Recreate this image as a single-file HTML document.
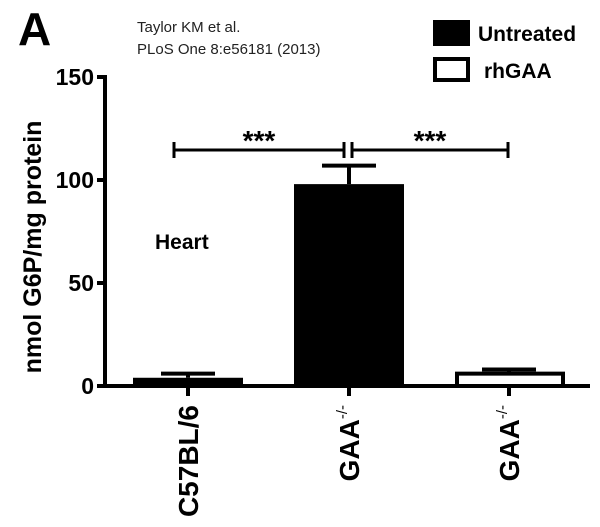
<!DOCTYPE html>
<html><head><meta charset="utf-8"><style>
body{margin:0;background:#fff;width:600px;height:527px;overflow:hidden}
svg{display:block;font-family:"Liberation Sans",Arial,sans-serif}
</style></head><body>
<svg width="600" height="527" viewBox="0 0 600 527">
<g id="root"></g>
</svg>
<script>
const categories=["C57BL/6","GAA","GAA"];
const superscripts=["","-/-","-/-"];
const values=[4,98,6];
const errors=[6,107,8];
const treated=[false,false,true];
const ticks=[0,50,100,150];
const NS="http://www.w3.org/2000/svg";
const root=document.getElementById('root');
const y0=386,yTop=77,vmax=150;
function ys(v){return y0-(v/vmax)*(y0-yTop);}
const xc=[188,349,509],bw=110;
function mk(t,a,name,parent){const e=document.createElementNS(NS,t);for(const k in a)e.setAttribute(k,a[k]);


(parent||root).appendChild(e);return e;}
let t=mk('text',{x:18,y:45,'font-size':46,'font-weight':'bold'},'panel-label');t.textContent='A';
t=mk('text',{x:137,y:32,'font-size':15,fill:'#222'},'citation-line-1');t.textContent='Taylor KM et al.';
t=mk('text',{x:137,y:54,'font-size':15,fill:'#222'},'citation-line-2');t.textContent='PLoS One 8:e56181 (2013)';
mk('rect',{x:433,y:20,width:37,height:26,fill:'#000'},'legend-untreated-swatch');
t=mk('text',{x:478,y:41,'font-size':21,'font-weight':'bold'},'legend-untreated-label');t.textContent='Untreated';
mk('rect',{x:435,y:59,width:33,height:21,fill:'#fff',stroke:'#000','stroke-width':4},'legend-rhgaa-swatch');
t=mk('text',{x:484,y:78,'font-size':21,'font-weight':'bold'},'legend-rhgaa-label');t.textContent='rhGAA';
values.forEach((v,i)=>{
 const x=xc[i]-bw/2+(i==2?1:0);
 const top=ys(v);
 const et=ys(errors[i]);
 mk('line',{x1:xc[i],x2:xc[i],y1:et,y2:top,stroke:'#000','stroke-width':4},'error-bar-'+i);
 mk('line',{x1:xc[i]-27,x2:xc[i]+27,y1:et,y2:et,stroke:'#000','stroke-width':4},'error-cap-'+i);
 if(treated[i]) mk('rect',{x:x+2,y:top,width:bw-4,height:y0-top,fill:'#fff',stroke:'#000','stroke-width':4},'bar-'+i);
 else mk('rect',{x:x,y:top,width:bw,height:y0-top,fill:'#000'},'bar-'+i);
});
mk('line',{x1:105,x2:105,y1:yTop-2,y2:y0+2,stroke:'#000','stroke-width':4},'y-axis');
mk('line',{x1:103,x2:590,y1:y0,y2:y0,stroke:'#000','stroke-width':4},'x-axis');
ticks.forEach(v=>{
 const y=ys(v);
 mk('line',{x1:97,x2:105,y1:y,y2:y,stroke:'#000','stroke-width':4},'y-tick-'+v);
 const tt=mk('text',{x:94,y:y+8,'font-size':23,'font-weight':'bold','text-anchor':'end'},'y-tick-label-'+v);tt.textContent=v;
});
categories.forEach((c,i)=>{
 mk('line',{x1:xc[i],x2:xc[i],y1:y0,y2:y0+10,stroke:'#000','stroke-width':4},'x-tick-'+i);
 const tt=mk('text',{transform:`translate(${xc[i]+10},${y0+19}) rotate(-90)`,'font-size':28,'font-weight':'bold','text-anchor':'end'},'x-label-'+i);
 if(superscripts[i]){const s=document.createElementNS(NS,'tspan');s.textContent=c;tt.appendChild(s);
  const p=document.createElementNS(NS,'tspan');p.setAttribute('dy','-12');p.setAttribute('font-size','15');p.setAttribute('font-weight','normal');p.textContent=superscripts[i];tt.appendChild(p);}
 else tt.textContent=c;
});
t=mk('text',{transform:'translate(41,247) rotate(-90)','font-size':25,'font-weight':'bold','text-anchor':'middle'},'y-axis-title');t.textContent='nmol G6P/mg protein';
t=mk('text',{x:155,y:249,'font-size':21,'font-weight':'bold'},'heart-label');t.textContent='Heart';
function bracket(x1,x2,name){
 mk('line',{x1:x1,x2:x2,y1:150,y2:150,stroke:'#000','stroke-width':3},name+'-line');
 mk('line',{x1:x1,x2:x1,y1:142,y2:158,stroke:'#000','stroke-width':3},name+'-left-end');
 mk('line',{x1:x2,x2:x2,y1:142,y2:158,stroke:'#000','stroke-width':3},name+'-right-end');
 const s=mk('text',{x:(x1+x2)/2,y:150,'font-size':28,'font-weight':'bold','text-anchor':'middle'},name+'-stars');s.textContent='***';
}
bracket(174,344,'sig-bracket-left');
bracket(352,508,'sig-bracket-right');
</script>
</body></html>
